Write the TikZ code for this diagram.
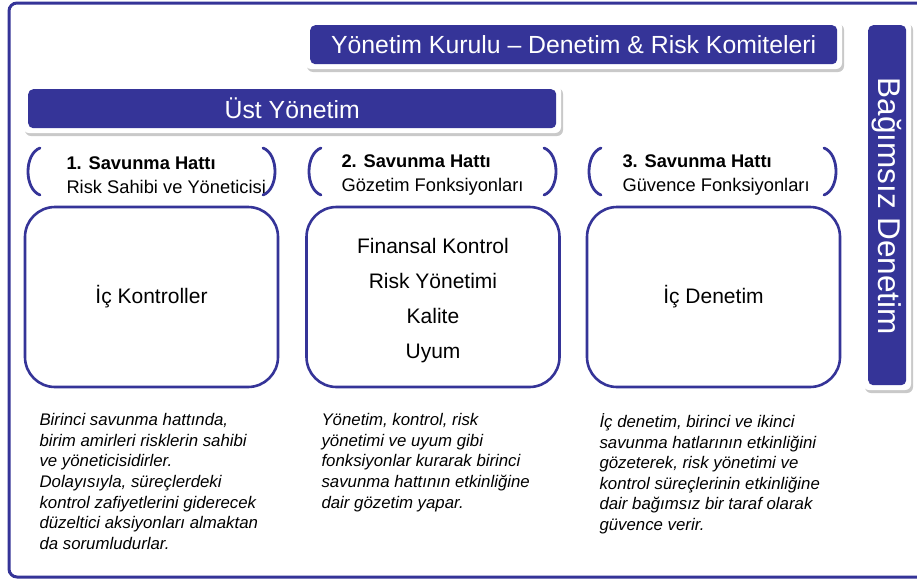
\documentclass[tikz,border=0pt]{standalone}
\usepackage{fontspec}
\setmainfont{Liberation Sans}
\usetikzlibrary{shadows}
\definecolor{navy}{RGB}{53,52,152}
\tikzset{
  frame/.style={draw=navy, line width=3pt, rounded corners=8pt},
  halo/.style={fill=white, rounded corners=6pt, drop shadow={shadow xshift=2pt, shadow yshift=-3pt, opacity=0.35, fill=black!60}},
  bluebar/.style={fill=navy, rounded corners=5pt, text=white},
  bracket/.style={draw=navy, line width=2.8pt, line cap=round},
  cbox/.style={draw=navy, line width=2.6pt, rounded corners=30pt, minimum width=253pt, minimum height=180pt, font=\fontsize{21}{25}\selectfont, align=center},
  hdr/.style={anchor=west, align=left, font=\fontsize{18.3}{24}\selectfont},
  desc/.style={anchor=north west, align=left, font=\fontsize{16.8}{20.6}\selectfont\itshape}
}
\begin{document}
\begin{tikzpicture}[x=1pt,y=-1pt]
\useasboundingbox (0,0) rectangle (917,581);
\fill[white] (0,0) rectangle (917,581);
\draw[frame] (9,3) rectangle (940,577);
% top bar
\path[halo] (305,21) rectangle (842,69);
\node[bluebar, minimum width=527pt, minimum height=39pt, font=\fontsize{24.8}{28}\selectfont, anchor=north west] (board) at (310,25) {Yönetim Kurulu – Denetim \& Risk Komiteleri};
% ust yonetim
\path[halo] (23,85) rectangle (561,133);
\node[bluebar, minimum width=528pt, minimum height=39pt, font=\fontsize{24.8}{28}\selectfont, anchor=north west] (ust) at (28,89) {Üst Yönetim};
% vertical
\path[halo] (863,21) rectangle (911,390);
\node[bluebar, minimum width=38pt, minimum height=360pt, anchor=north west] (bag) at (868,25) {};
\node[text=white, rotate=-90, font=\fontsize{31.5}{34}\selectfont] (bagt) at ([yshift=-1pt]bag.center) {Bağımsız Denetim};
% brackets
\foreach \l/\r in {40/263, 321/544, 601/824}{
  \draw[bracket] (\l,148) .. controls (\l-16,154) and (\l-16,189) .. (\l,195);
  \draw[bracket] (\r,148) .. controls (\r+16,154) and (\r+16,189) .. (\r,195);
}
\node[hdr] (h1) at (63,175) {\textbf{1. Savunma Hattı}\\Risk Sahibi ve Yöneticisi};
\node[hdr] (h2) at (338,175) {\textbf{2. Savunma Hattı}\\Gözetim Fonksiyonları};
\node[hdr] (h3) at (619,175) {\textbf{3. Savunma Hattı}\\Güvence Fonksiyonları};
% boxes
\node[cbox] (b1) at (151.5,297) {İç Kontroller};
\node[cbox] (b2) at (433,297) {};
\node[font=\fontsize{21}{35}\selectfont, align=center] (b2t) at (433,301) {Finansal Kontrol\\Risk Yönetimi\\Kalite\\Uyum};
\node[cbox] (b3) at (713.5,297) {İç Denetim};
% descriptions
\node[desc] (d1) at (36,410) {Birinci savunma hattında,\\birim amirleri risklerin sahibi\\ve yöneticisidirler.\\Dolayısıyla, süreçlerdeki\\kontrol zafiyetlerini giderecek\\düzeltici aksiyonları almaktan\\da sorumludurlar.};
\node[desc] (d2) at (318,410) {Yönetim, kontrol, risk\\yönetimi ve uyum gibi\\fonksiyonlar kurarak birinci\\savunma hattının etkinliğine\\dair gözetim yapar.};
\node[desc] (d3) at (596,410) {İç denetim, birinci ve ikinci\\savunma hatlarının etkinliğini\\gözeterek, risk yönetimi ve\\kontrol süreçlerinin etkinliğine\\dair bağımsız bir taraf olarak\\güvence verir.};
\end{tikzpicture}
\end{document}
